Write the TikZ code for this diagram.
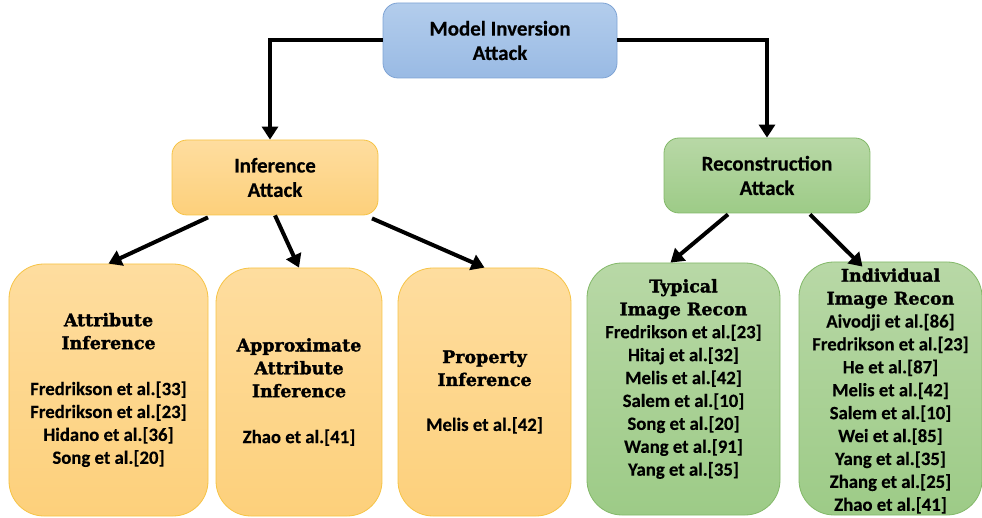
\documentclass[tikz,border=0pt]{standalone}
\usepackage{fontspec}
\setmainfont{Carlito}[BoldFeatures={FakeBold=0.3}]
\newfontfamily\headfont{DejaVu Serif Bold}[FakeBold=1.6]
\usetikzlibrary{arrows.meta}

\definecolor{blueTop}{HTML}{B3CDEC}
\definecolor{blueBot}{HTML}{99BAE4}
\definecolor{blueLine}{HTML}{7EA3D4}
\definecolor{orTop}{HTML}{FEDD9F}
\definecolor{orBot}{HTML}{FDD07B}
\definecolor{orLine}{HTML}{F6C344}
\definecolor{grTop}{HTML}{B8D8A6}
\definecolor{grBot}{HTML}{9DCB87}
\definecolor{grLine}{HTML}{82B868}

\tikzset{
  topbox/.style={draw, line width=0.8bp, rounded corners=15bp,
    minimum width=206bp, minimum height=75bp, align=center,
    font=\bfseries\fontsize{21}{24.5}\selectfont},
  bluebox/.style={topbox, draw=blueLine, top color=blueTop, bottom color=blueBot},
  orbox/.style={topbox, draw=orLine, top color=orTop, bottom color=orBot},
  grbox/.style={topbox, draw=grLine, top color=grTop, bottom color=grBot},
  leafbox/.style={draw, line width=0.8bp, rounded corners=35bp},
  orleaf/.style={leafbox, draw=orLine, top color=orTop, bottom color=orBot},
  grleaf/.style={leafbox, draw=grLine, top color=grTop, bottom color=grBot},
  leaftext/.style={align=center, inner sep=0pt,
    font=\bfseries\fontsize{18.8}{23}\selectfont},
  link/.style={line width=4bp, draw=black,
    -{Triangle[width=16bp,length=13bp]}},
}
\newcommand{\hd}[1]{{\headfont\fontsize{17.5}{23}\selectfont #1}}

\begin{document}
\begin{tikzpicture}[x=1bp,y=-1bp]
\useasboundingbox (0,0) rectangle (982,518);

% upper levels
\node[bluebox, minimum width=234bp] (mia) at (500,40.5) {Model Inversion\\Attack};
\node[orbox] (inf) at (275,177.5) {Inference\\Attack};
\node[grbox] (rec) at (767,175.5) {Reconstruction\\Attack};

% leaf boxes
\node[orleaf, minimum width=199bp, minimum height=252bp] (attr) at (108.5,390) {};
\node[orleaf, minimum width=166bp, minimum height=248bp] (appr) at (299,392) {};
\node[orleaf, minimum width=173bp, minimum height=248bp] (prop) at (484.5,392) {};
\node[grleaf, minimum width=193bp, minimum height=252bp] (typ) at (683.5,389) {};
\node[grleaf, minimum width=183bp, minimum height=253bp] (ind) at (890.5,388.5) {};

% leaf contents
\node[leaftext] (attrT) at (108.5,390) {\hd{Attribute}\\\hd{Inference}\\[23bp]
  Fredrikson et al.[33]\\Fredrikson et al.[23]\\Hidano et al.[36]\\Song et al.[20]};
\node[leaftext] (apprT) at (299,392) {\hd{Approximate}\\\hd{Attribute}\\\hd{Inference}\\[23bp]
  Zhao et al.[41]};
\node[leaftext] (propT) at (484.5,392) {\hd{Property}\\\hd{Inference}\\[22bp]
  Melis et al.[42]};
\node[leaftext] (typT) at (683.5,379) {\hd{Typical}\\\hd{Image Recon}\\
  Fredrikson et al.[23]\\Hitaj et al.[32]\\Melis et al.[42]\\Salem et al.[10]\\
  Song et al.[20]\\Wang et al.[91]\\Yang et al.[35]};
\node[leaftext] (indT) at (890.5,391) {\hd{Individual}\\\hd{Image Recon}\\
  Aivodji et al.[86]\\Fredrikson et al.[23]\\He et al.[87]\\Melis et al.[42]\\
  Salem et al.[10]\\Wei et al.[85]\\Yang et al.[35]\\Zhang et al.[25]\\Zhao et al.[41]};

% connectors
\draw[link] (mia.west) -| ([xshift=-5bp]inf.north);
\draw[link] (mia.east) -| (rec.north);
\draw[link] ([xshift=-67bp,yshift=-2bp]inf.south) -- (attr.north);
\draw[link] (inf.south) -- (appr.north);
\draw[link] ([xshift=97bp,yshift=-3bp]inf.south) -- (prop.north);
\draw[link] ([xshift=-39bp,yshift=-1bp]rec.south) -- ([xshift=-13bp]typ.north);
\draw[link] ([xshift=43bp,yshift=-1bp]rec.south) -- ([xshift=-28bp,yshift=-5bp]ind.north);
\end{tikzpicture}
\end{document}
